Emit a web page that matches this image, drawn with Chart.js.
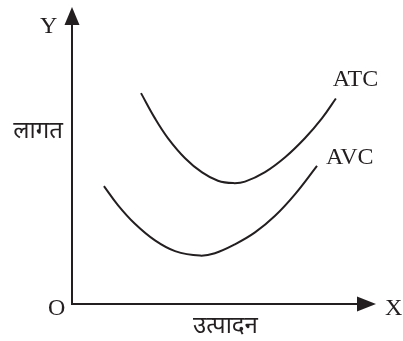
<!DOCTYPE html>
<html>
<head>
<meta charset="utf-8">
<script src="https://cdn.jsdelivr.net/npm/chart.js@4/dist/chart.umd.min.js"></script>
<style>
  html, body { margin: 0; padding: 0; background: #fff; }
  #wrap { width: 403px; height: 341px; }
</style>
</head>
<body>
<div id="wrap"><canvas id="canvas1" width="403" height="341"></canvas></div>
<script>
// curve data (output on x, cost on y)
const atcX = [2.27, 2.73, 3.16, 3.72, 4.28, 4.80, 5.30, 5.69, 6.35, 7.01, 7.66, 8.22, 8.68];
const atcY = [7.10, 6.25, 5.58, 4.91, 4.43, 4.15, 4.07, 4.12, 4.44, 4.94, 5.58, 6.25, 6.92];
const avcX = [1.05, 1.51, 2.07, 2.73, 3.39, 4.21, 4.70, 5.36, 6.02, 6.68, 7.34, 8.06];
const avcY = [3.97, 3.33, 2.70, 2.14, 1.78, 1.63, 1.71, 2.01, 2.41, 2.97, 3.70, 4.65];

const curveNames = ['ATC', 'AVC'];
const xTitle = 'उत्पादन';
const yTitle = 'लागत';

const ink = '#231f20';
const serif = '"Liberation Serif", "Times New Roman", serif';
const deva = '"Noto Sans", "Noto Sans Devanagari", sans-serif';

function toPoints(xs, ys) {
    return xs.map((x, i) => ({ x: x, y: ys[i] }));
}

// axes with arrow heads and the labels
const axesPlugin = {
    id: 'axes',
    afterDraw(chart) {
        const ctx = chart.ctx;
        const xs = chart.scales.x, ys = chart.scales.y;
        const ox = xs.getPixelForValue(0), oy = ys.getPixelForValue(0);
        const xEnd = xs.getPixelForValue(10), yEnd = ys.getPixelForValue(10);
        ctx.save();
        ctx.strokeStyle = ink;
        ctx.fillStyle = ink;
        ctx.lineWidth = 2;
        ctx.beginPath();
        ctx.moveTo(ox, yEnd + 16);
        ctx.lineTo(ox, oy);
        ctx.lineTo(xEnd - 16, oy);
        ctx.stroke();
        // arrow heads
        ctx.beginPath();
        ctx.moveTo(ox, yEnd);
        ctx.lineTo(ox - 7.5, yEnd + 18);
        ctx.lineTo(ox + 7.5, yEnd + 18);
        ctx.closePath();
        ctx.fill();
        ctx.beginPath();
        ctx.moveTo(xEnd, oy);
        ctx.lineTo(xEnd - 19, oy - 7.5);
        ctx.lineTo(xEnd - 19, oy + 7.5);
        ctx.closePath();
        ctx.fill();

        ctx.font = '24px ' + serif;
        ctx.textBaseline = 'alphabetic';
        ctx.textAlign = 'left';
        ctx.fillText('Y', ox - 32, yEnd + 26);
        ctx.fillText('O', ox - 24, oy + 11);
        ctx.fillText('X', xEnd + 9, oy + 11);
        // curve names at the end of each curve
        const ends = [[atcX, atcY], [avcX, avcY]];
        const offs = [[-3, -12], [9, -2]];
        curveNames.forEach((n, i) => {
            const xv = ends[i][0], yv = ends[i][1];
            const px = xs.getPixelForValue(xv[xv.length - 1]);
            const py = ys.getPixelForValue(yv[yv.length - 1]);
            ctx.fillText(n, px + offs[i][0], py + offs[i][1]);
        });

        ctx.font = '24px ' + deva;
        ctx.textAlign = 'right';
        ctx.fillText(yTitle, ox - 9, ys.getPixelForValue(5.6));
        ctx.textAlign = 'center';
        ctx.fillText(xTitle, xs.getPixelForValue(5.05), oy + 29);
        ctx.restore();
    }
};

const data = {
    datasets: [{
        label: curveNames[0],
        data: toPoints(atcX, atcY),
        borderColor: ink,
        borderWidth: 2,
        pointRadius: 0,
        tension: 0.4,
        fill: false
    }, {
        label: curveNames[1],
        data: toPoints(avcX, avcY),
        borderColor: ink,
        borderWidth: 2,
        pointRadius: 0,
        tension: 0.4,
        fill: false
    }]
};

const config = {
    type: 'scatter',
    data: data,
    options: {
        responsive: false,
        animation: false,
        showLine: true,
        layout: { padding: { left: 72, right: 27, top: 7, bottom: 37 } },
        scales: {
            x: { type: 'linear', min: 0, max: 10, display: false },
            y: { type: 'linear', min: 0, max: 10, display: false }
        },
        plugins: {
            legend: { display: false },
            tooltip: { enabled: false }
        }
    },
    plugins: [axesPlugin]
};

const chart = new Chart(document.getElementById('canvas1'), config);
</script>
</body>
</html>
